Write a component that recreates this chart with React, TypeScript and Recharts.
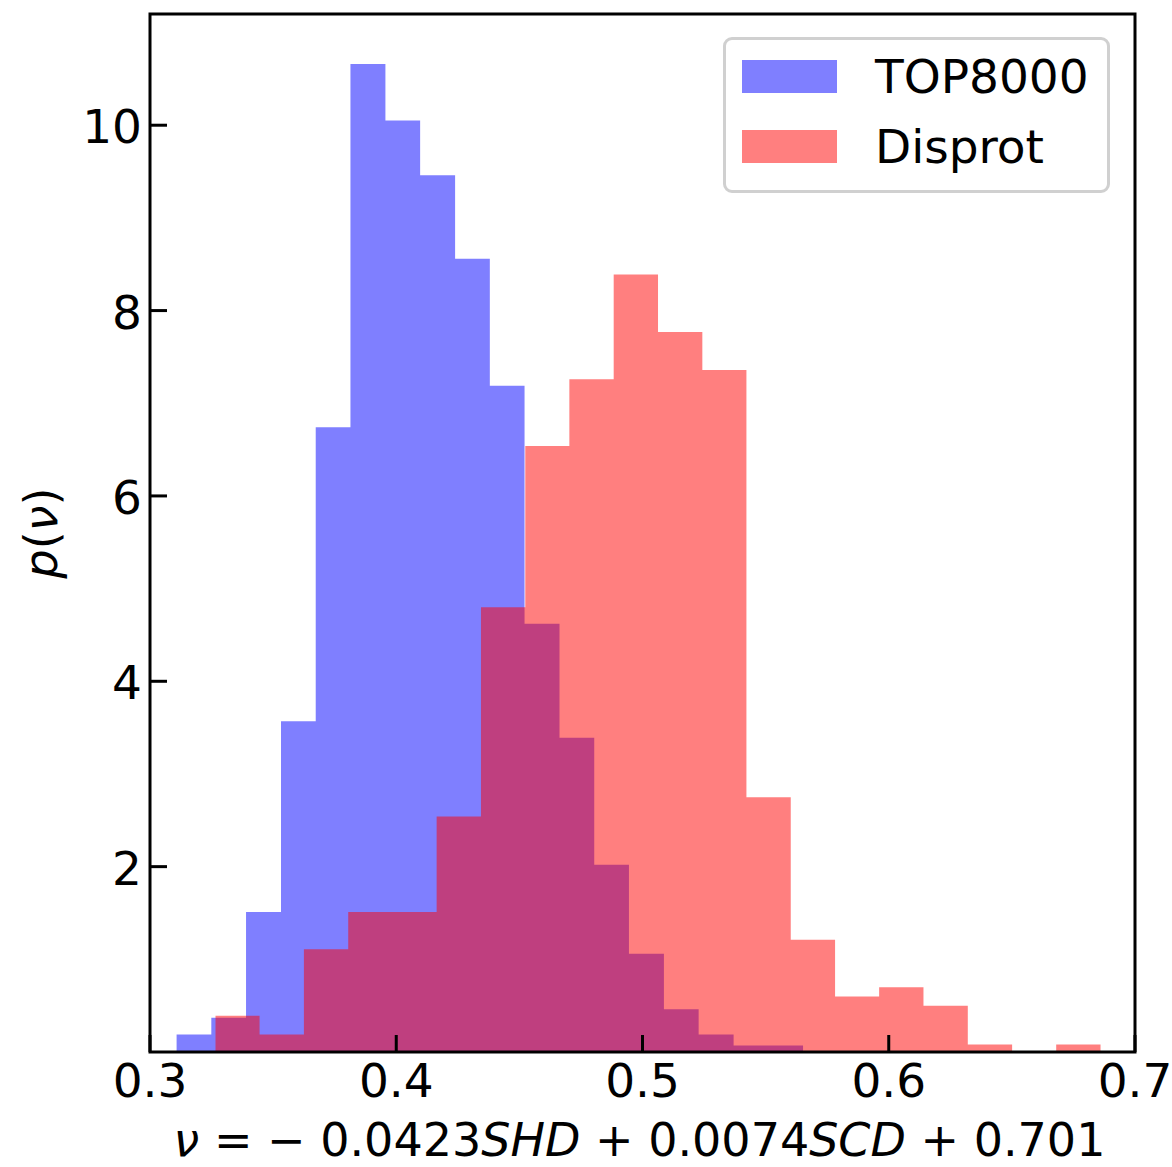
import React from 'react';
import { ComposedChart, Area, XAxis, YAxis, ReferenceArea, Label } from 'recharts';

// Histogram bin edges (left edges ... final right edge) and densities
const blueEdges = [
  0.3108, 0.3249, 0.3390, 0.3532, 0.3673, 0.3814, 0.3956, 0.4097, 0.4239, 0.4380,
  0.4521, 0.4663, 0.4804, 0.4945, 0.5087, 0.5228, 0.5370, 0.5511, 0.5652,
];
const blueDensity = [
  0.19, 0.37, 1.51, 3.57, 6.74, 10.66, 10.05, 9.46, 8.56, 7.19,
  4.62, 3.39, 2.02, 1.06, 0.46, 0.19, 0.07, 0.07,
];
const redEdges = [
  0.3266, 0.3445, 0.3625, 0.3805, 0.3985, 0.4164, 0.4344, 0.4524, 0.4703, 0.4883,
  0.5063, 0.5243, 0.5422, 0.5602, 0.5782, 0.5961, 0.6141, 0.6321, 0.6501, 0.6680, 0.6860,
];
const redDensity = [
  0.39, 0.19, 1.11, 1.51, 1.51, 2.54, 4.80, 6.54, 7.26, 8.39,
  7.77, 7.36, 2.75, 1.21, 0.60, 0.70, 0.50, 0.08, 0, 0.08,
];
const xTicks = [0.3, 0.4, 0.5, 0.6, 0.7];
const yTicks = [2, 4, 6, 8, 10];
const seriesNames = ['TOP8000', 'Disprot'];
const seriesColors = ['#0000ff', '#ff0000'];

const FONT = 'DejaVu Sans';

type Pt = { x: number; blue: number | null; red: number | null };

function stepPoints(edges: number[], dens: number[], key: 'blue' | 'red'): Pt[] {
  return edges.map((x, i) => {
    const p: Pt = { x, blue: null, red: null };
    p[key] = i < dens.length ? dens[i] : 0;
    return p;
  });
}

const data: Pt[] = [
  ...stepPoints(blueEdges, blueDensity, 'blue'),
  ...stepPoints(redEdges, redDensity, 'red'),
].sort((a, b) => a.x - b.x);

const XTick = (props: any) => {
  const { x, y, payload } = props;
  return (
    <g>
      <line x1={x} y1={y} x2={x} y2={y - 17} stroke="#000" strokeWidth={3} />
      <text x={x} y={y + 45} textAnchor="middle" fontSize={47} fontFamily={FONT} fill="#000">
        {Number(payload.value).toFixed(1)}
      </text>
    </g>
  );
};

const YTick = (props: any) => {
  const { x, y, payload } = props;
  return (
    <g>
      <line x1={x} y1={y} x2={x + 17} y2={y} stroke="#000" strokeWidth={3} />
      <text x={x - 8} y={y + 18} textAnchor="end" fontSize={47} fontFamily={FONT} fill="#000">
        {String(payload.value)}
      </text>
    </g>
  );
};

const XLabel = (props: any) => {
  const { x, y, width } = props.viewBox;
  return (
    <text x={x + width / 2 - 3} y={y + 104} textAnchor="middle" fontSize={46} fontFamily={FONT} fill="#000" style={{ whiteSpace: 'pre' }}>
      <tspan fontStyle="italic">ν</tspan>
      <tspan>{' = − 0.0423'}</tspan>
      <tspan fontStyle="italic">SHD</tspan>
      <tspan>{' + 0.0074'}</tspan>
      <tspan fontStyle="italic">SCD</tspan>
      <tspan>{' + 0.701'}</tspan>
    </text>
  );
};

const YLabel = (props: any) => {
  const { y, height } = props.viewBox;
  const cx = 57;
  const cy = y + height / 2;
  return (
    <text x={cx} y={cy} transform={`rotate(-90 ${cx} ${cy})`} textAnchor="middle" fontSize={46} fontFamily={FONT} fill="#000">
      <tspan fontStyle="italic">p</tspan>
      <tspan>(</tspan>
      <tspan fontStyle="italic">ν</tspan>
      <tspan>)</tspan>
    </text>
  );
};

const LegendBox = () => (
  <div
    style={{
      position: 'absolute',
      left: 723,
      top: 37,
      boxSizing: 'border-box',
      width: 387,
      height: 156,
      border: '3px solid #d0d0d0',
      borderRadius: 9,
      background: 'rgba(255,255,255,0.8)',
      paddingTop: 20,
      paddingLeft: 16,
      fontFamily: FONT,
      fontSize: 47,
      color: '#000',
    }}
  >
    {seriesNames.map((name, i) => (
      <div key={name} style={{ display: 'flex', alignItems: 'center', height: 33, marginBottom: i === 0 ? 37 : 0 }}>
        <div style={{ width: 95, height: 33, background: seriesColors[i], opacity: 0.5 }} />
        <span style={{ marginLeft: 38, lineHeight: '47px', whiteSpace: 'nowrap' }}>{name}</span>
      </div>
    ))}
  </div>
);

export default function App() {
  return (
    <div style={{ position: 'absolute', left: 0, top: 0, width: 1172, height: 1167, background: '#fff' }}>
      <ComposedChart
        width={1172}
        height={1167}
        data={data}
        margin={{ top: 14, right: 37, bottom: 0, left: 0 }}
      >
        <Area
          type="stepAfter"
          dataKey="blue"
          name={seriesNames[0]}
          fill={seriesColors[0]}
          fillOpacity={0.5}
          stroke="none"
          connectNulls
          isAnimationActive={false}
          dot={false}
          activeDot={false}
        />
        <Area
          type="stepAfter"
          dataKey="red"
          name={seriesNames[1]}
          fill={seriesColors[1]}
          fillOpacity={0.5}
          stroke="none"
          connectNulls
          isAnimationActive={false}
          dot={false}
          activeDot={false}
        />
        <XAxis
          type="number"
          dataKey="x"
          domain={[0.3, 0.7]}
          ticks={xTicks}
          allowDataOverflow
          height={115}
          axisLine={false}
          tickLine={false}
          tickSize={0}
          tickMargin={0}
          tick={<XTick />}
          interval={0}
        >
          <Label content={<XLabel />} />
        </XAxis>
        <YAxis
          type="number"
          domain={[0, 11.2]}
          ticks={yTicks}
          allowDataOverflow
          width={150}
          axisLine={false}
          tickLine={false}
          tickSize={0}
          tickMargin={0}
          tick={<YTick />}
          interval={0}
        >
          <Label content={<YLabel />} />
        </YAxis>
        <ReferenceArea
          x1={0.3}
          x2={0.7}
          y1={0}
          y2={11.2}
          fill="none"
          fillOpacity={0}
          stroke="#000"
          strokeWidth={3}
          ifOverflow="visible"
        />
      </ComposedChart>
      <LegendBox />
    </div>
  );
}
